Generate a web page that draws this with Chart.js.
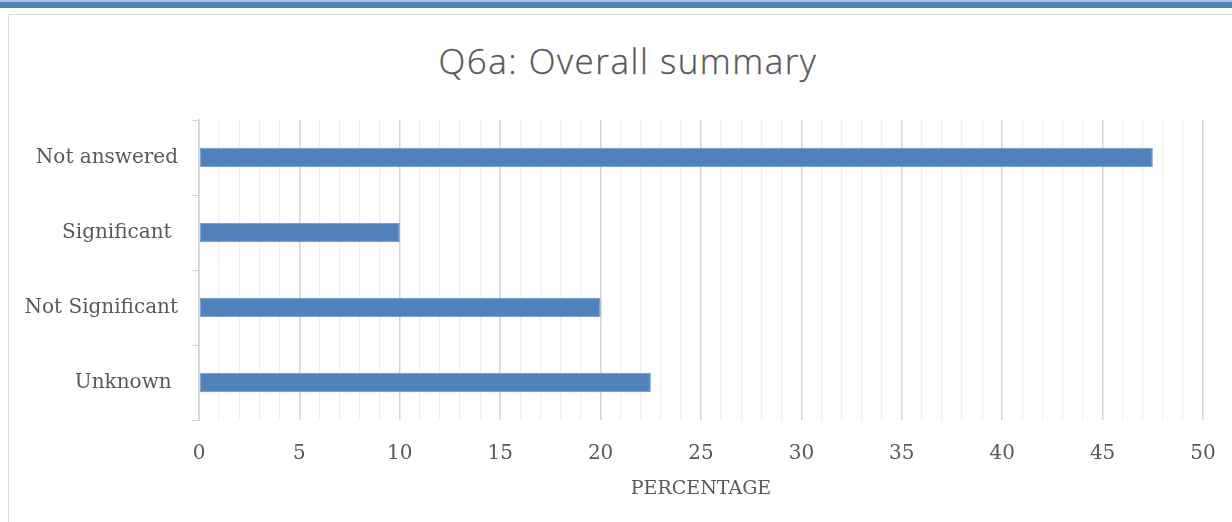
<!DOCTYPE html>
<html>
<head>
<meta charset="utf-8">
<script src="https://cdn.jsdelivr.net/npm/chart.js@4.4.0/dist/chart.umd.min.js"></script>
<style>
  html, body { margin: 0; padding: 0; background: #fff; }
  body { width: 1232px; height: 522px; position: relative; overflow: hidden; }
  .band-light { position: absolute; left: 0; top: 0; width: 1232px; height: 2px; background: #a9c0e0; }
  .band { position: absolute; left: 0; top: 2px; width: 1232px; height: 6px; background: #4f81bd; }
  .frame { position: absolute; left: 8px; top: 14px; width: 1240px; height: 520px;
           border: 1.5px solid #d9d9d9; box-sizing: border-box; }
  .title { position: absolute; left: 0; width: 1256px; top: 37px; line-height: 42px;
           text-align: center; font: 300 35px 'Open Sans', sans-serif; letter-spacing: 1.5px;
           color: #595959; -webkit-text-stroke: 0.3px #595959; }
  #chart { position: absolute; left: 0; top: 0; }
</style>
</head>
<body>
<div class="band-light"></div>
<div class="band"></div>
<div class="frame"></div>
<div class="title">Q6a: Overall summary</div>
<canvas id="chart" width="1232" height="522"></canvas>
<script>
  // Q6a overall summary, percentages per answer
  const categories = ['Not answered', 'Significant ', 'Not Significant', 'Unknown '];
  const percentages = [47.5, 10, 20, 22.5];
  const xMin = 0, xMax = 50, majorStep = 5;

  const BAR = '#4F81BD';
  const TEXT = '#595959';
  const GRID_MAJOR = '#d4d4d4';
  const GRID_MINOR = '#efefef';
  const SERIF = "'DejaVu Serif', serif";

  Chart.defaults.color = TEXT;

  const isMajor = ctx => ctx.tick && ctx.tick.value % majorStep === 0;

  new Chart(document.getElementById('chart'), {
    type: 'bar',
    data: {
      labels: categories,
      datasets: [{
        data: percentages,
        backgroundColor: BAR,
        borderColor: '#6f96c9',
        borderWidth: 1,
        borderSkipped: false,
        categoryPercentage: 1,
        barPercentage: 0.26,
      }],
    },
    options: {
      indexAxis: 'y',
      responsive: false,
      animation: false,
      layout: { padding: { left: 0, right: 29, top: 120, bottom: 0 } },
      plugins: {
        legend: { display: false },
        tooltip: { enabled: false },
      },
      scales: {
        x: {
          min: xMin,
          max: xMax,
          afterFit: s => { s.height = 102; s.paddingLeft = 0; s.paddingRight = 0; },
          border: { display: false },
          grid: {
            drawTicks: false,
            color: ctx => isMajor(ctx) ? GRID_MAJOR : GRID_MINOR,
            lineWidth: ctx => isMajor(ctx) ? 1.5 : 1.2,
          },
          ticks: {
            stepSize: 1,
            autoSkip: false,
            maxRotation: 0,
            padding: 22,
            color: TEXT,
            font: { family: SERIF, size: 20 },
            callback: v => (v % majorStep === 0 ? String(v) : ''),
          },
          title: {
            display: true,
            text: 'PERCENTAGE',
            color: TEXT,
            font: { family: SERIF, size: 19 },
            padding: { top: 0, bottom: 22 },
          },
        },
        y: {
          afterFit: s => { s.width = 199; s.paddingTop = 0; s.paddingBottom = 0; },
          border: { display: true, color: GRID_MAJOR, width: 1.5 },
          grid: {
            offset: true,
            drawOnChartArea: false,
            drawTicks: true,
            tickLength: 7,
            color: GRID_MAJOR,
          },
          ticks: {
            padding: 14,
            color: TEXT,
            font: { family: SERIF, size: 20 },
          },
        },
      },
    },
  });
</script>
</body>
</html>
